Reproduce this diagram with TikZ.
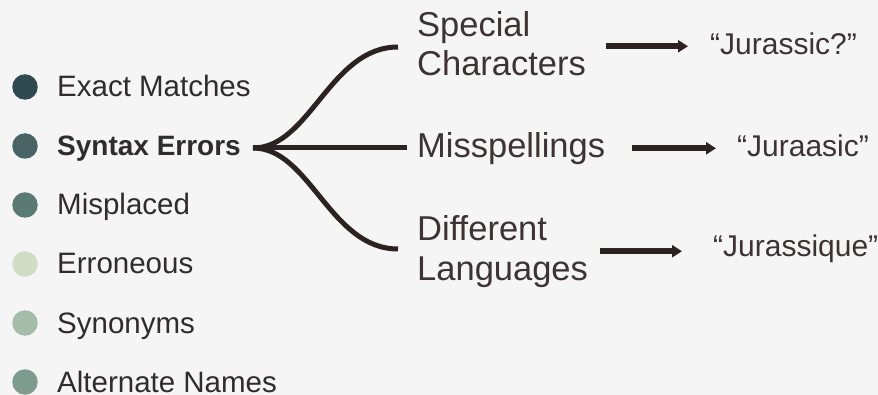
\documentclass[tikz,border=0pt]{standalone}
\usepackage{fontspec}
\setmainfont{Liberation Sans}
\usetikzlibrary{arrows.meta,calc}
\definecolor{bg}{HTML}{F5F5F5}
\definecolor{cA}{HTML}{2F4A50}
\definecolor{cB}{HTML}{4A6466}
\definecolor{cC}{HTML}{5B7A73}
\definecolor{cD}{HTML}{D0DCC3}
\definecolor{cE}{HTML}{A5BCA8}
\definecolor{cF}{HTML}{7D9C8E}
\definecolor{legtext}{HTML}{302B2C}
\definecolor{midtext}{HTML}{3D3335}
\definecolor{linec}{HTML}{2D2222}
\tikzset{
  dot/.style={circle,minimum size=25.5pt,inner sep=0pt},
  legend/.style={anchor=base west,inner sep=0pt,text=legtext,font=\fontsize{29.5}{34}\selectfont},
  legendbold/.style={anchor=base west,inner sep=0pt,text=legtext,font=\fontsize{28}{34}\selectfont\bfseries},
  mid/.style={anchor=base west,inner sep=0pt,text=midtext,align=left,font=\fontsize{34.5}{39.5}\selectfont},
  res/.style={anchor=base west,inner sep=0pt,text=midtext,font=\fontsize{30}{34}\selectfont},
  branch/.style={draw=linec,line width=5pt},
  arr/.style={draw=linec,line width=6pt,-{Triangle[length=10pt,width=12pt]}},
}
\begin{document}
\begin{tikzpicture}[x=1pt,y=-1pt]
\fill[bg] (0,0) rectangle (878,395);
\useasboundingbox (0,0) rectangle (878,395);
% legend
\node[dot,fill=cA] (d1) at (25,87) {};
\node[dot,fill=cB] (d2) at (25,146) {};
\node[dot,fill=cC] (d3) at (25,205) {};
\node[dot,fill=cD] (d4) at (25,264) {};
\node[dot,fill=cE] (d5) at (25,323) {};
\node[dot,fill=cF] (d6) at (25,382) {};
\node[legend] (l1) at (57,97) {Exact Matches};
\node[legendbold] (se) at (57,156) {Syntax Errors};
\node[legend] (l3) at (57,215) {Misplaced};
\node[legend] (l4) at (57,274) {Erroneous};
\node[legend] (l5) at (57,333) {Synonyms};
\node[legend] (l6) at (57,392) {Alternate Names};
% categories
\node[mid] (sc) at (417,76) {Special\\Characters};
\node[mid] (ms) at (417,158) {Misspellings};
\node[mid] (dl) at (417,280) {Different\\Languages};
% results
\node[res] (r1) at (710,55) {“Jurassic?”};
\node[res] (r2) at (737,157) {“Juraasic”};
\node[res] (r3) at (713,257) {“Jurassique”};
% branches
\coordinate (j) at (253,148);
\coordinate (sc-in) at (398,47);
\coordinate (ms-in) at (407,148);
\coordinate (dl-in) at (398,249);
\draw[branch] (j) .. controls (310,148) and (330,47) .. (sc-in);
\draw[branch] (j) -- (ms-in);
\draw[branch] (j) .. controls (310,148) and (330,249) .. (dl-in);
% arrows
\draw[arr] ($(sc.east |- r1.west)+(20,2)$) -- ($(r1.west)+(-22,2)$);
\draw[arr] ($(ms.east |- r2.west)+(27,2)$) -- ($(r2.west)+(-21,2)$);
\draw[arr] ($(dl.east |- r3.west)+(12,2)$) -- ($(r3.west)+(-31,2)$);
\end{tikzpicture}
\end{document}
